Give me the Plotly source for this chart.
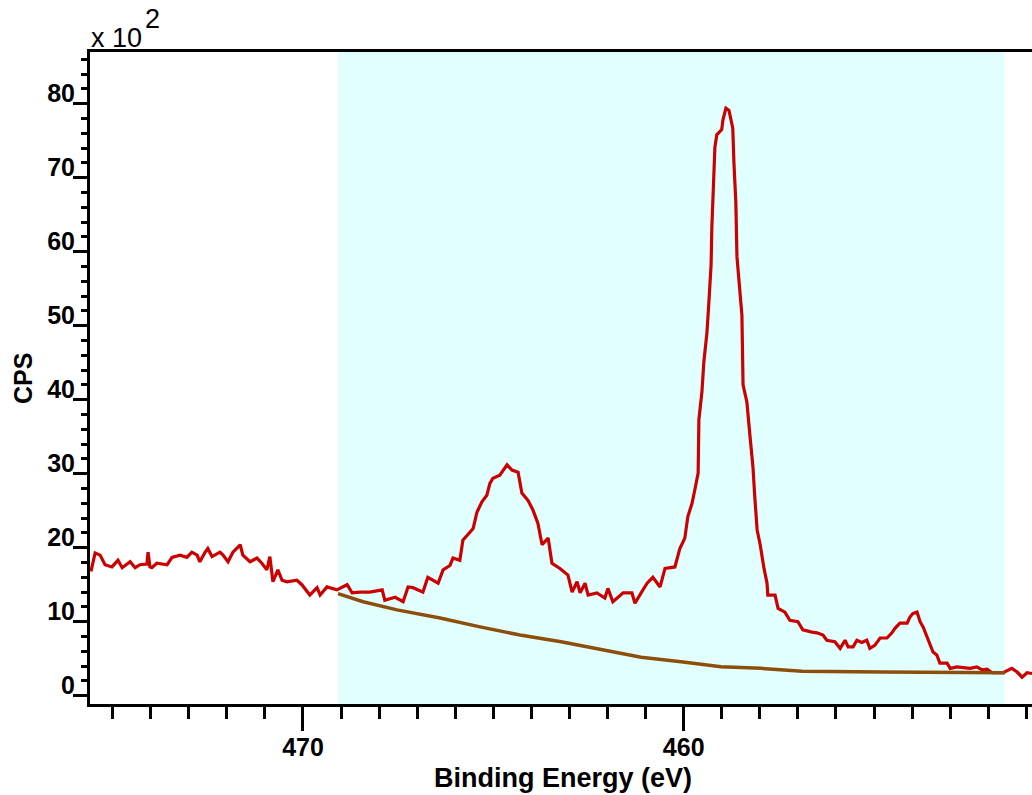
import plotly.graph_objects as go

# Ti 2p region: binding energy (eV) and measured counts per second
energy_ev = [
    475.57, 475.46, 475.33, 475.20, 475.02, 474.86, 474.75, 474.54, 474.41, 474.28,
    474.10, 474.07, 474.02, 473.97, 473.84, 473.57, 473.44, 473.23, 473.05, 472.92,
    472.78, 472.71, 472.57, 472.50, 472.39, 472.18, 472.10, 471.97, 471.84, 471.65,
    471.58, 471.39, 471.21, 471.08, 470.95, 470.87, 470.79, 470.66, 470.55, 470.42,
    470.16, 470.03, 469.82, 469.63, 469.55, 469.37, 469.11, 468.84, 468.71, 468.50,
    468.24, 467.92, 467.85, 467.58, 467.37, 467.24, 467.11, 466.85, 466.72, 466.45,
    466.32, 466.14, 466.06, 465.88, 465.80, 465.69, 465.53, 465.43, 465.30, 465.17,
    465.09, 465.01, 464.83, 464.64, 464.51, 464.35, 464.25, 464.09, 463.96, 463.83,
    463.72, 463.56, 463.46, 463.25, 463.04, 462.93, 462.80, 462.72, 462.59, 462.51,
    462.28, 462.07, 461.99, 461.86, 461.59, 461.36, 461.28, 461.07, 460.96, 460.81,
    460.62, 460.49, 460.23, 460.10, 459.97, 459.89, 459.78, 459.70, 459.62, 459.60,
    459.52, 459.47, 459.39, 459.34, 459.28, 459.26, 459.23, 459.18, 459.13, 459.00,
    458.97, 458.89, 458.81, 458.76, 458.71, 458.68, 458.63, 458.60, 458.55, 458.47,
    458.44, 458.34, 458.26, 458.18, 458.13, 458.07, 457.99, 457.94, 457.89, 457.81,
    457.79, 457.60, 457.52, 457.34, 457.21, 457.00, 456.87, 456.63, 456.50, 456.34,
    456.24, 456.03, 455.89, 455.76, 455.68, 455.55, 455.45, 455.32, 455.19, 455.11,
    454.98, 454.84, 454.66, 454.53, 454.45, 454.32, 454.13, 454.06, 453.98, 453.87,
    453.79, 453.71, 453.61, 453.53, 453.45, 453.35, 453.27, 453.08, 453.00, 452.82,
    452.48, 452.30, 452.16, 452.03, 451.90, 451.61, 451.38, 451.24, 451.11, 450.98,
    450.85,
]
counts_cps = [
    1680, 1930, 1900, 1770, 1740, 1830, 1730, 1810, 1730, 1770,
    1780, 1940, 1740, 1730, 1790, 1770, 1870, 1900, 1870, 1940,
    1900, 1810, 1940, 1990, 1880, 1940, 1900, 1810, 1940, 2040,
    1900, 1810, 1860, 1790, 1700, 1880, 1540, 1700, 1560, 1540,
    1560, 1500, 1360, 1460, 1360, 1470, 1430, 1500, 1390, 1400,
    1400, 1430, 1290, 1330, 1270, 1470, 1460, 1400, 1600, 1520,
    1700, 1760, 1860, 1830, 2100, 2170, 2260, 2480, 2620, 2710,
    2870, 2940, 2980, 3120, 3050, 3020, 2740, 2640, 2510, 2330,
    2040, 2130, 1790, 1720, 1630, 1400, 1540, 1390, 1520, 1360,
    1390, 1320, 1450, 1270, 1390, 1390, 1250, 1430, 1520, 1600,
    1470, 1720, 1740, 1990, 2130, 2420, 2600, 2800, 3010, 3730,
    4110, 4510, 4900, 5300, 5820, 6330, 6870, 7410, 7580, 7650,
    7780, 7940, 7910, 7800, 7670, 7200, 6670, 5930, 5570, 5140,
    4200, 3970, 3520, 3090, 2670, 2240, 2040, 1860, 1720, 1520,
    1360, 1360, 1180, 1130, 1020, 1000, 890, 860, 850, 820,
    750, 730, 640, 750, 660, 660, 750, 720, 750, 640,
    680, 780, 780, 850, 910, 980, 980, 1060, 1110, 1130,
    1000, 930, 790, 690, 590, 550, 440, 440, 370, 390,
    370, 390, 350, 360, 310, 310, 370, 320, 250, 310,
    300,
]

# Shirley background across the fitting window
bg_energy_ev = [469.08, 468.42, 467.53, 466.40, 465.35, 464.30, 463.22, 462.17,
                461.12, 460.07, 459.02, 457.97, 456.89, 454.79, 451.56]
bg_counts_cps = [1380, 1270, 1160, 1050, 930, 820, 730, 620,
                 520, 460, 390, 370, 330, 320, 310]

# Region of interest limits (eV)
roi_start_ev = 469.08
roi_end_ev = 451.57

x_range = [475.595, 450.85]
y_range = [-1.12, 86.99]
scale = 100.0

FONT = "Liberation Sans, Arial, sans-serif"

fig = go.Figure()
fig.add_trace(go.Scatter(
    x=energy_ev, y=[c / scale for c in counts_cps], mode="lines",
    line=dict(color="rgb(204,0,0)", width=3.2), showlegend=False, hoverinfo="x+y",
))
fig.add_trace(go.Scatter(
    x=bg_energy_ev, y=[c / scale for c in bg_counts_cps], mode="lines",
    line=dict(color="rgb(140,78,10)", width=3.5), showlegend=False,
))

fig.add_shape(type="rect", xref="x", yref="paper", x0=roi_start_ev, x1=roi_end_ev,
              y0=0, y1=1, fillcolor="rgb(225,255,255)", line=dict(width=0), layer="below")

L, R, T, B = 90, 0, 52, 91
W, H = 1032, 795
pw, ph = W - L - R, H - T - B


def px(xp):
    return (xp - L) / pw


def py(yp):
    return (H - B - yp) / ph


fig.add_annotation(text="x 10", x=px(89), y=py(38), xref="paper", yref="paper",
                   xanchor="left", yanchor="middle", showarrow=False,
                   font=dict(family=FONT, size=27, color="black"))
fig.add_annotation(text="2", x=px(143), y=py(19), xref="paper", yref="paper",
                   xanchor="left", yanchor="middle", showarrow=False,
                   font=dict(family=FONT, size=27, color="black"))
fig.add_annotation(text="CPS", x=px(23), y=py(379), xref="paper", yref="paper",
                   xanchor="center", yanchor="middle", textangle=-90, showarrow=False,
                   font=dict(family=FONT, size=25, color="black", weight="bold"))
fig.add_annotation(text="Binding Energy (eV)", x=px(563), y=py(778), xref="paper", yref="paper",
                   xanchor="center", yanchor="middle", showarrow=False,
                   font=dict(family=FONT, size=27, color="black", weight="bold"))

fig.update_xaxes(
    range=x_range, showgrid=False, zeroline=False,
    showline=True, linecolor="black", linewidth=3, mirror=True,
    ticks="outside", ticklen=24, tickwidth=3, tickcolor="black",
    tick0=0, dtick=10,
    minor=dict(ticks="outside", ticklen=12, tickwidth=3, tickcolor="black", dtick=1, showgrid=False),
    tickfont=dict(family=FONT, size=25, color="black", weight="bold"),
    ticklabelstandoff=-5,
)
fig.update_yaxes(
    range=y_range, showgrid=False, zeroline=False,
    showline=True, linecolor="black", linewidth=3, mirror=False,
    ticks="outside", ticklen=14, tickwidth=3, tickcolor="black",
    tick0=0, dtick=10,
    minor=dict(ticks="outside", ticklen=6, tickwidth=3, tickcolor="black", dtick=2, showgrid=False),
    tickfont=dict(family=FONT, size=25, color="black", weight="bold"),
    ticklabelshift=-10, ticklabelstandoff=-7,
)

fig.update_layout(
    width=W, height=H, margin=dict(l=L, r=R, t=T, b=B, pad=0),
    paper_bgcolor="white", plot_bgcolor="white",
)

fig.write_html("out.html")
